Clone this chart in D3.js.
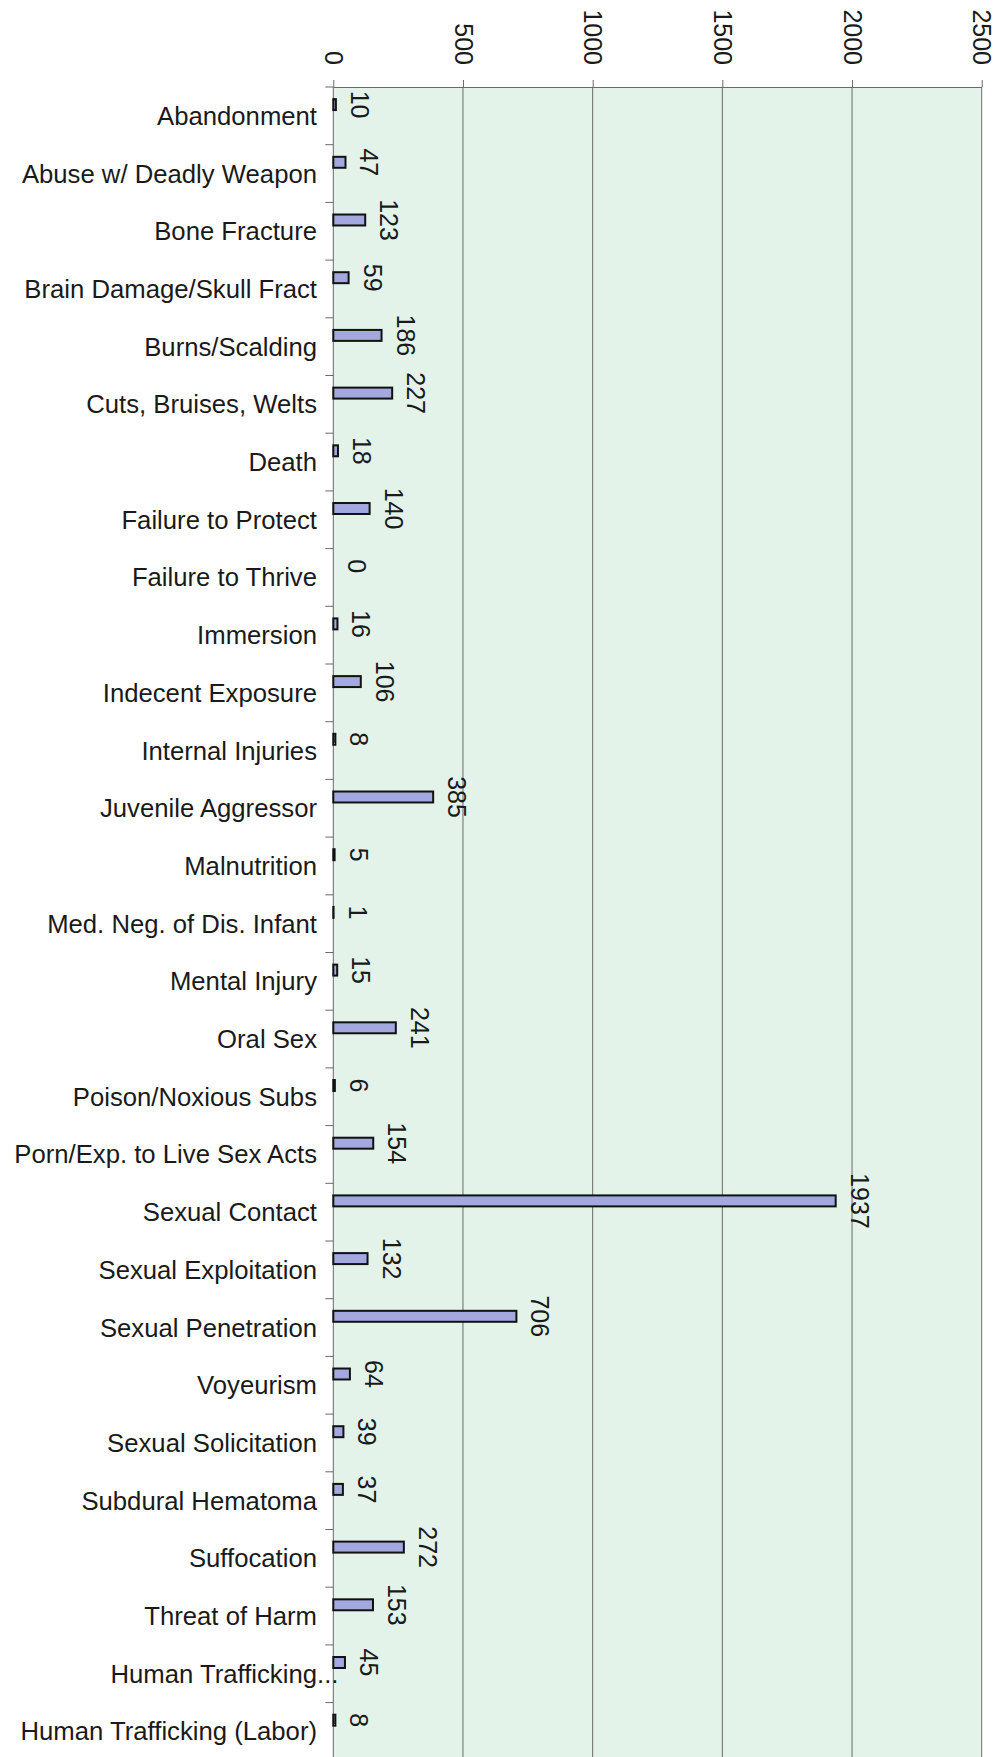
<!DOCTYPE html>
<html>
<head>
<meta charset="utf-8">
<script src="https://cdn.jsdelivr.net/npm/d3@7/dist/d3.min.js"></script>
<style>
  html, body { margin: 0; padding: 0; background: #ffffff; }
  svg { display: block; }
  text { font-family: "Liberation Sans", Arial, Helvetica, sans-serif; }
</style>
</head>
<body>
<div id="chart"></div>
<script>
const categories = [
  "Abandonment", "Abuse w/ Deadly Weapon", "Bone Fracture", "Brain Damage/Skull Fract",
  "Burns/Scalding", "Cuts, Bruises, Welts", "Death", "Failure to Protect",
  "Failure to Thrive", "Immersion", "Indecent Exposure", "Internal Injuries",
  "Juvenile Aggressor", "Malnutrition", "Med. Neg. of Dis. Infant", "Mental Injury",
  "Oral Sex", "Poison/Noxious Subs", "Porn/Exp. to Live Sex Acts", "Sexual Contact",
  "Sexual Exploitation", "Sexual Penetration", "Voyeurism", "Sexual Solicitation",
  "Subdural Hematoma", "Suffocation", "Threat of Harm", "Human Trafficking...",
  "Human Trafficking (Labor)"
];
const values = [
  10, 47, 123, 59, 186, 227, 18, 140, 0, 16, 106, 8, 385, 5, 1, 15,
  241, 6, 154, 1937, 132, 706, 64, 39, 37, 272, 153, 45, 8
];
const xTicks = [0, 500, 1000, 1500, 2000, 2500];

(function () {
const W = 999, H = 1757;
const plotLeft = 333.3, plotRight = 981.7, plotTop = 87;
const bandH = 57.7;
const plotBottom = plotTop + bandH * categories.length;

const svg = d3.select("#chart").append("svg")
  .attr("width", W).attr("height", H);

const x = d3.scaleLinear().domain([0, 2500]).range([plotLeft, plotRight]);
const y = d3.scaleBand().domain(categories).range([plotTop, plotBottom]).paddingInner(0).paddingOuter(0);
const bw = y.bandwidth();

// plot area
svg.append("rect")
  .attr("x", plotLeft).attr("y", plotTop)
  .attr("width", plotRight - plotLeft).attr("height", plotBottom - plotTop)
  .attr("fill", "#e3f3ea");

// vertical gridlines
svg.append("g").selectAll("line").data(xTicks.slice(1)).join("line")
  .attr("x1", d => x(d)).attr("x2", d => x(d))
  .attr("y1", plotTop).attr("y2", plotBottom)
  .attr("stroke", "#6a6a6a").attr("stroke-width", 1);

// top axis
const xAxis = d3.axisTop(x).tickValues(xTicks).tickSize(7).tickSizeOuter(0).tickFormat(d3.format("d"));
const gx = svg.append("g").attr("transform", `translate(0,${plotTop})`).call(xAxis);
gx.select(".domain").attr("stroke", "#6a6a6a");
gx.selectAll(".tick line").attr("stroke", "#6a6a6a");
gx.selectAll(".tick text")
  .attr("transform", "translate(0,-22) rotate(90)")
  .attr("x", 0).attr("y", 0).attr("dy", "0.35em")
  .attr("text-anchor", "end")
  .attr("font-size", "25px")
  .attr("fill", "#1a1a1a");

// left axis line
svg.append("line")
  .attr("x1", plotLeft).attr("x2", plotLeft).attr("y1", plotTop).attr("y2", plotBottom)
  .attr("stroke", "#6a6a6a").attr("stroke-width", 1);

// category ticks at band boundaries
const boundaries = categories.map(c => y(c)).concat([plotBottom]);
svg.append("g").selectAll("line").data(boundaries).join("line")
  .attr("x1", plotLeft - 8).attr("x2", plotLeft)
  .attr("y1", d => d).attr("y2", d => d)
  .attr("stroke", "#6a6a6a").attr("stroke-width", 1);

// category labels
const labelG = svg.append("g");
categories.forEach(c => {
  const cy = y(c) + bw / 2;
  const trunc = c.endsWith("...");
  const main = trunc ? c.slice(0, -3) : c;
  labelG.append("text")
    .attr("x", 317).attr("y", cy).attr("dy", "0.35em")
    .attr("text-anchor", "end")
    .attr("font-size", "25.7px")
    .attr("fill", "#1a1a1a")
    .text(main);
  if (trunc) {
    labelG.append("text")
      .attr("x", 317).attr("y", cy).attr("dy", "0.35em")
      .attr("text-anchor", "start")
      .attr("font-size", "25.7px")
      .attr("fill", "#1a1a1a")
      .text("...");
  }
});

// bars
const data = categories.map((c, i) => ({ c, v: values[i] }));
svg.append("g").selectAll("rect").data(data).join("rect")
  .attr("x", x(0))
  .attr("y", d => y(d.c) + bw * 0.21)
  .attr("width", d => x(d.v) - x(0))
  .attr("height", bw * 0.19)
  .attr("fill", "#a3a8de")
  .attr("stroke", d => d.v > 0 ? "#111111" : "none")
  .attr("stroke-width", 2);

// value labels
svg.append("g").selectAll("text").data(data).join("text")
  .attr("transform", d => `translate(${x(d.v) + 15},${y(d.c) + bw * 0.305}) rotate(90)`)
  .attr("text-anchor", "middle")
  .attr("font-size", "25px")
  .attr("fill", "#1a1a1a")
  .text(d => d.v);
})();
</script>
</body>
</html>
